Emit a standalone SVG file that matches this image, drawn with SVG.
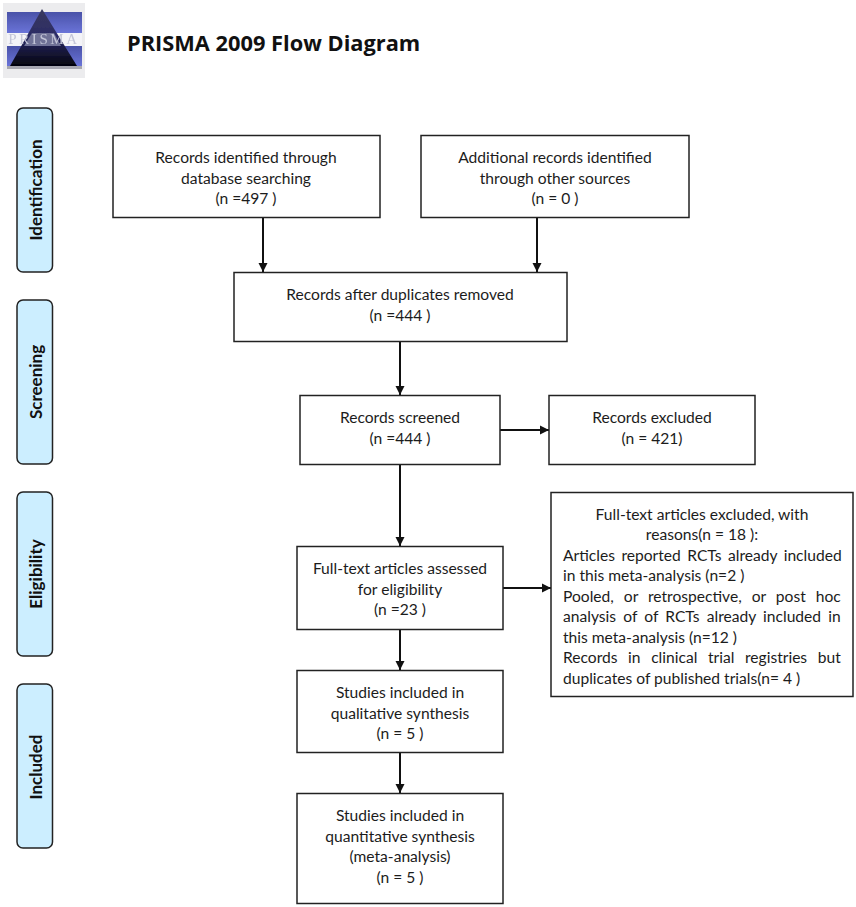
<svg xmlns="http://www.w3.org/2000/svg" width="856" height="907" viewBox="0 0 856 907">
<style>
text{font-family:Lato,"Open Sans","Liberation Sans",sans-serif;fill:#1c1c1c}
.t{font-size:15.6px;text-anchor:middle}
.l{font-size:15.6px}
.box{fill:#fff;stroke:#222;stroke-width:1.5}
.side{fill:#cceeff;stroke:#222;stroke-width:1.5}
.s{font-size:17px;font-weight:700;text-anchor:middle;fill:#111}
.c{fill:none;stroke:#111;stroke-width:2;marker-end:url(#a)}
</style>
<defs>
<marker id="a" markerUnits="userSpaceOnUse" markerWidth="10" markerHeight="10" refX="9" refY="5" orient="auto"><path d="M0 0.5L9 5L0 9.500Z" fill="#111"/></marker>
<linearGradient id="g" x1="0" y1="0" x2="0" y2="1"><stop offset="0" stop-color="#3a3a5e"/><stop offset="0.5" stop-color="#2a2a66"/><stop offset="1" stop-color="#04040c"/></linearGradient>
<linearGradient id="b" x1="0" y1="0" x2="0" y2="1"><stop offset="0" stop-color="#4a52a8"/><stop offset="1" stop-color="#6a74d8"/></linearGradient>
<filter id="blur" x="-5%" y="-5%" width="110%" height="110%"><feGaussianBlur stdDeviation="0.6"/></filter>
</defs>
<g id="logo">
<rect x="3" y="3" width="82" height="75" fill="#ececee"/>
<g filter="url(#blur)">
<rect x="7" y="66" width="75" height="3" fill="#a8a8b0"/>
<rect x="7" y="12" width="75" height="21" fill="url(#b)"/>
<rect x="7" y="46" width="75" height="20" fill="url(#b)"/>
<rect x="7" y="33" width="75" height="13" fill="#f4f4f8"/>
<path d="M42 9L77 66H10Z" fill="url(#g)"/>
<path d="M32 33H54L61 46H24Z" fill="#6f7296"/>
<text x="44" y="44" font-size="15" text-anchor="middle" style="font-family:'Liberation Serif',serif;fill:#c4c6d8" letter-spacing="2.6">PRISMA</text>
</g>
</g>
<text id="title" x="127" y="51" font-size="21.8" font-weight="700" style="font-family:'Open Sans','Liberation Sans',sans-serif;fill:#111">PRISMA 2009 Flow Diagram</text>
<g id="side-identification"><rect class="side" x="17" y="108" width="35.500" height="164" rx="6"/><text class="s" transform="translate(42 190) rotate(-90)">Identification</text></g>
<g id="side-screening"><rect class="side" x="17" y="300" width="35.500" height="164" rx="6"/><text class="s" transform="translate(42 382) rotate(-90)">Screening</text></g>
<g id="side-eligibility"><rect class="side" x="17" y="492" width="35.500" height="164" rx="6"/><text class="s" transform="translate(42 574) rotate(-90)">Eligibility</text></g>
<g id="side-included"><rect class="side" x="17" y="684" width="35.500" height="164" rx="6"/><text class="s" transform="translate(42 767) rotate(-90)">Included</text></g>
<g id="connectors">
<path class="c" d="M263 217V272"/>
<path class="c" d="M537 217V272"/>
<path class="c" d="M400 341V395"/>
<path class="c" d="M500 430H549"/>
<path class="c" d="M400 465V546"/>
<path class="c" d="M503 588H551"/>
<path class="c" d="M400 629V670"/>
<path class="c" d="M400 752V793"/>
</g>
<g id="n1"><rect class="box" x="113" y="135.500" width="267" height="82"/><text class="t" x="246" y="163">Records identified through</text><text class="t" x="246" y="184">database searching</text><text class="t" x="246" y="204">(n =497 )</text></g>
<g id="n2"><rect class="box" x="421" y="135.500" width="268" height="82"/><text class="t" x="555" y="163">Additional records identified</text><text class="t" x="555" y="184">through other sources</text><text class="t" x="555" y="204">(n = 0 )</text></g>
<g id="n3"><rect class="box" x="234" y="272.500" width="333" height="69"/><text class="t" x="400" y="300">Records after duplicates removed</text><text class="t" x="400" y="321">(n =444 )</text></g>
<g id="n4"><rect class="box" x="300" y="395.500" width="200" height="69"/><text class="t" x="400" y="423">Records screened</text><text class="t" x="400" y="444">(n =444 )</text></g>
<g id="n5"><rect class="box" x="549" y="395.500" width="206" height="69"/><text class="t" x="652" y="423">Records excluded</text><text class="t" x="652" y="444">(n = 421)</text></g>
<g id="n6"><rect class="box" x="297" y="546.500" width="206" height="83"/><text class="t" x="400" y="574">Full-text articles assessed</text><text class="t" x="400" y="595">for eligibility</text><text class="t" x="400" y="615">(n =23 )</text></g>
<g id="n7"><rect class="box" x="551" y="492.500" width="302" height="204"/>
<text class="t" x="702" y="520">Full-text articles excluded, with</text>
<text class="t" x="702" y="540">reasons(n = 18 ):</text>
<text class="l" x="563" y="561" word-spacing="2.500">Articles reported RCTs already included</text>
<text class="l" x="563" y="581">in this meta-analysis (n=2 )</text>
<text class="l" x="563" y="602" word-spacing="6">Pooled, or retrospective, or post hoc</text>
<text class="l" x="563" y="622" word-spacing="3.200">analysis of of RCTs already included in</text>
<text class="l" x="563" y="643">this meta-analysis (n=12 )</text>
<text class="l" x="563" y="663" word-spacing="6.600">Records in clinical trial registries but</text>
<text class="l" x="563" y="684">duplicates of published trials(n= 4 )</text>
</g>
<g id="n8"><rect class="box" x="297" y="670.500" width="206" height="82"/><text class="t" x="400" y="698">Studies included in</text><text class="t" x="400" y="719">qualitative synthesis</text><text class="t" x="400" y="739">(n = 5 )</text></g>
<g id="n9"><rect class="box" x="297" y="793.500" width="206" height="110"/><text class="t" x="400" y="821">Studies included in</text><text class="t" x="400" y="842">quantitative synthesis</text><text class="t" x="400" y="862">(meta-analysis)</text><text class="t" x="400" y="883">(n = 5 )</text></g>
</svg>
